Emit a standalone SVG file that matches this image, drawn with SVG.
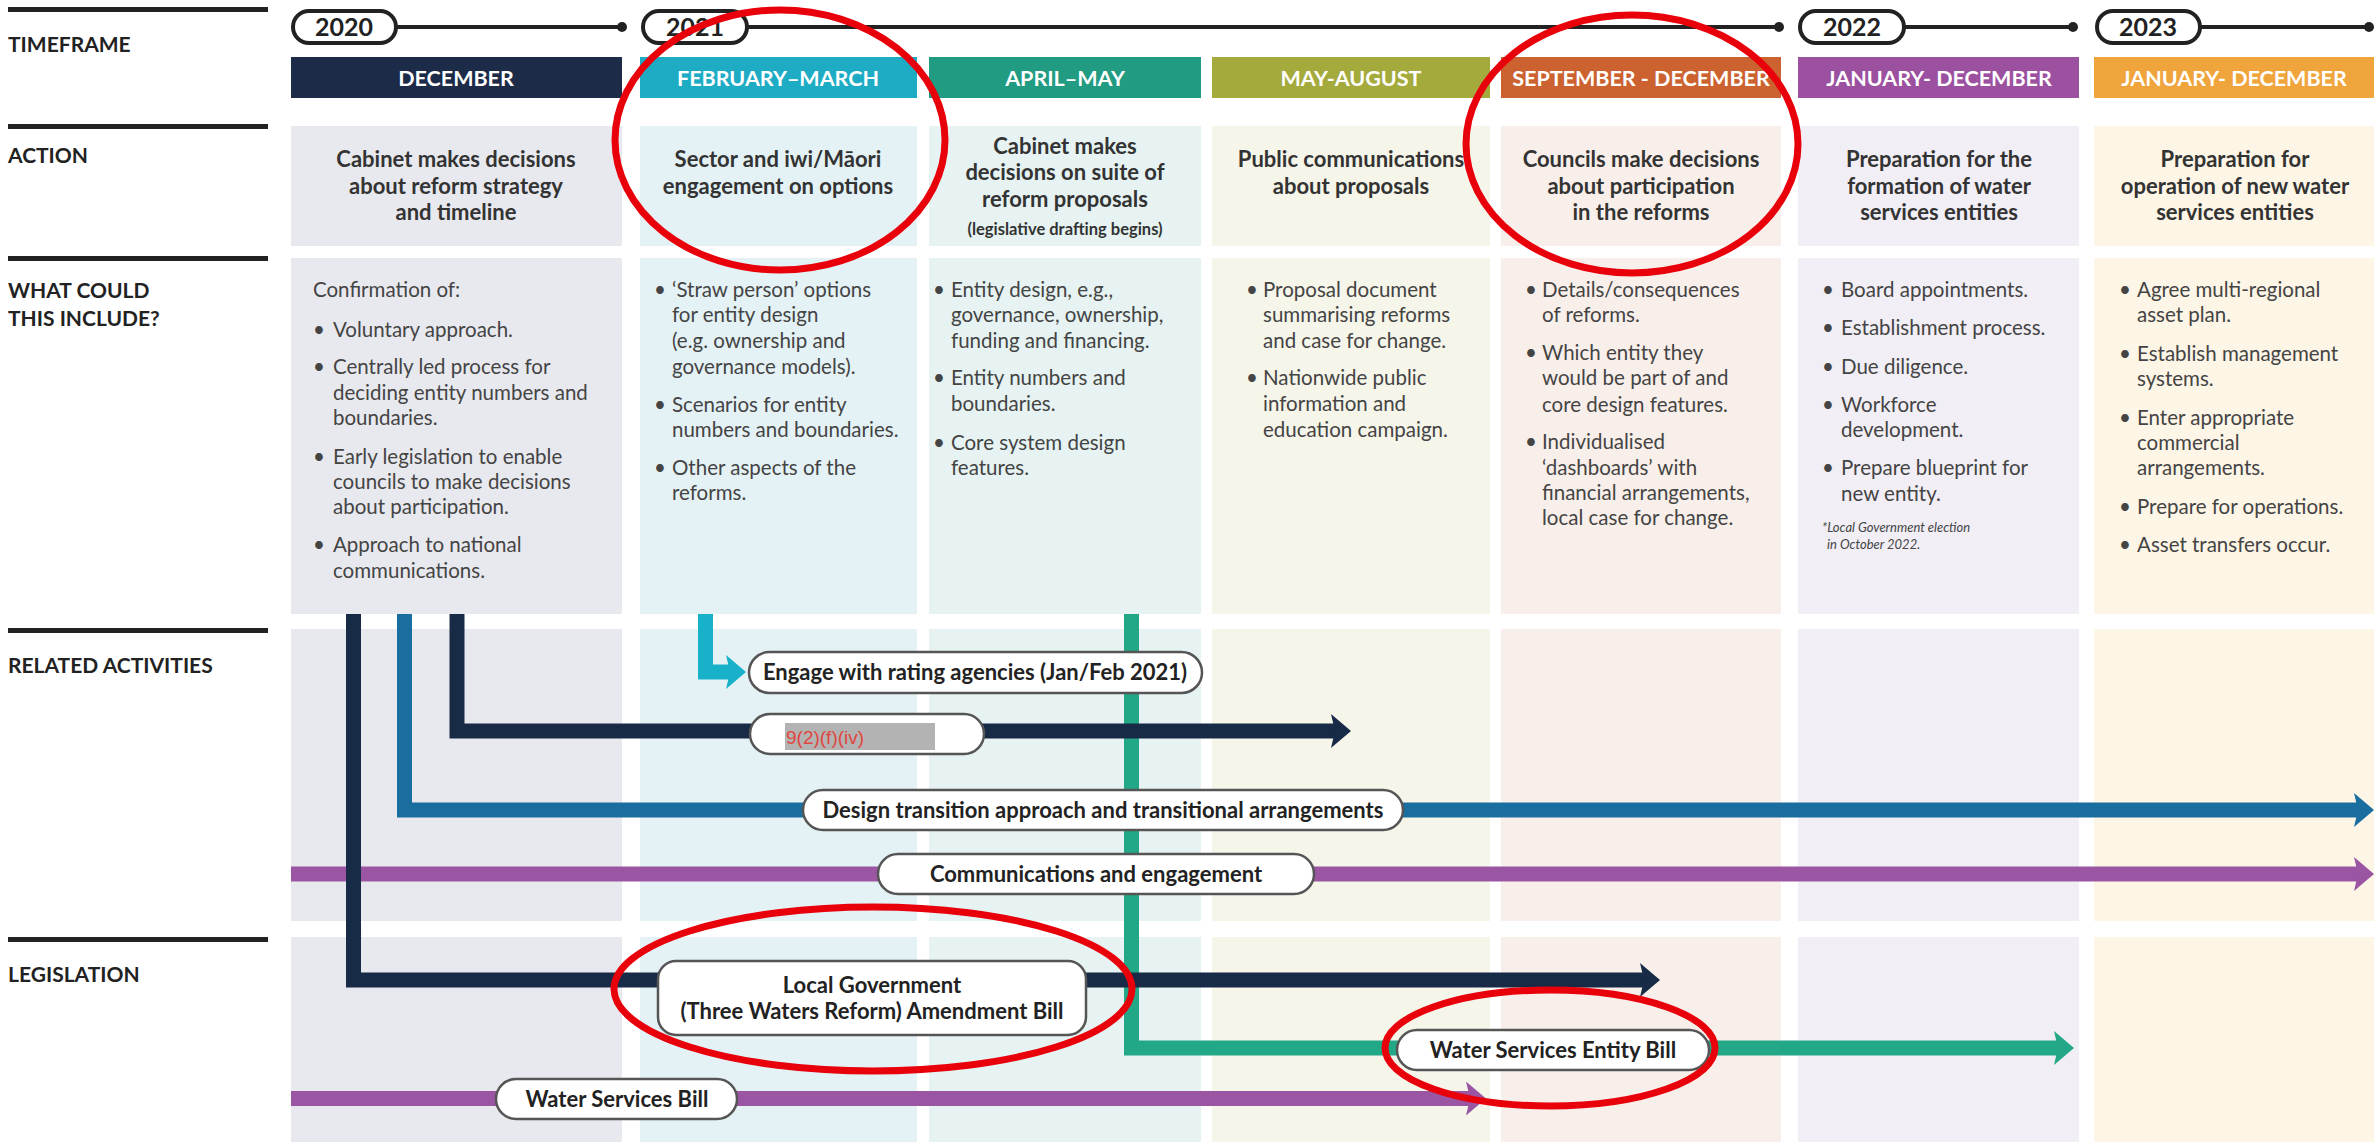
<svg xmlns="http://www.w3.org/2000/svg" width="2374" height="1142" viewBox="0 0 2374 1142">
<style>
.lbl{font-family:Lato,"Liberation Sans",sans-serif;font-weight:bold;font-size:21px;fill:#222}
.hdr{font-family:Lato,"Liberation Sans",sans-serif;font-weight:bold;font-size:21.5px;fill:#fff;text-anchor:middle}
.yr{font-family:Lato,"Liberation Sans",sans-serif;font-weight:bold;font-size:25px;fill:#222;text-anchor:middle}
.act{font-family:Lato,"Liberation Sans",sans-serif;font-weight:bold;font-size:22px;fill:#333;text-anchor:middle}
.sm{font-size:16.5px}
.body{font-family:Lato,"Liberation Sans",sans-serif;font-size:20.5px;fill:#444}
.note{font-family:Lato,"Liberation Sans",sans-serif;font-style:italic;font-size:13px;fill:#444}
.pt{font-family:Lato,"Liberation Sans",sans-serif;font-weight:bold;font-size:22px;fill:#222;text-anchor:middle}
.pill{fill:#fff;stroke:#555;stroke-width:2.5}
.ypill{fill:#fff;stroke:#222;stroke-width:4}
.bar{fill:#222}
.ln{fill:none;stroke-width:15;stroke-linejoin:miter;stroke-linecap:butt}
.ring{fill:none;stroke:#e8000b;stroke-width:7}
</style>
<defs>
<marker id="aNavy" viewBox="0 -17 20 34" markerWidth="20" markerHeight="34" refX="6" refY="0" markerUnits="userSpaceOnUse" orient="auto"><path d="M0,-17 L20,0 L0,17 L4,0 z" fill="#172a46"/></marker>
<marker id="aBlue" viewBox="0 -17 20 34" markerWidth="20" markerHeight="34" refX="6" refY="0" markerUnits="userSpaceOnUse" orient="auto"><path d="M0,-17 L20,0 L0,17 L4,0 z" fill="#1a6e9f"/></marker>
<marker id="aPurple" viewBox="0 -17 20 34" markerWidth="20" markerHeight="34" refX="6" refY="0" markerUnits="userSpaceOnUse" orient="auto"><path d="M0,-17 L20,0 L0,17 L4,0 z" fill="#9a56a2"/></marker>
<marker id="aCyan" viewBox="0 -17 20 34" markerWidth="20" markerHeight="34" refX="6" refY="0" markerUnits="userSpaceOnUse" orient="auto"><path d="M0,-17 L20,0 L0,17 L4,0 z" fill="#17b1c9"/></marker>
<marker id="aGreen" viewBox="0 -17 20 34" markerWidth="20" markerHeight="34" refX="6" refY="0" markerUnits="userSpaceOnUse" orient="auto"><path d="M0,-17 L20,0 L0,17 L4,0 z" fill="#22a886"/></marker>
</defs>
<rect width="2374" height="1142" fill="#fff"/>

<!-- column backgrounds -->
<g id="backgrounds">
<g fill="#e8e9ee"><rect x="291" y="126" width="331" height="120"/><rect x="291" y="258" width="331" height="356"/><rect x="291" y="629" width="331" height="292"/><rect x="291" y="937" width="331" height="205"/></g>
<g fill="#e4f2f6"><rect x="640" y="126" width="277" height="120"/><rect x="640" y="258" width="277" height="356"/><rect x="640" y="629" width="277" height="292"/><rect x="640" y="937" width="277" height="205"/></g>
<g fill="#e6f3f2"><rect x="929" y="126" width="272" height="120"/><rect x="929" y="258" width="272" height="356"/><rect x="929" y="629" width="272" height="292"/><rect x="929" y="937" width="272" height="205"/></g>
<g fill="#f6f5ea"><rect x="1212" y="126" width="278" height="120"/><rect x="1212" y="258" width="278" height="356"/><rect x="1212" y="629" width="278" height="292"/><rect x="1212" y="937" width="278" height="205"/></g>
<g fill="#f9efea"><rect x="1501" y="126" width="280" height="120"/><rect x="1501" y="258" width="280" height="356"/><rect x="1501" y="629" width="280" height="292"/><rect x="1501" y="937" width="280" height="205"/></g>
<g fill="#f1eef5"><rect x="1798" y="126" width="281" height="120"/><rect x="1798" y="258" width="281" height="356"/><rect x="1798" y="629" width="281" height="292"/><rect x="1798" y="937" width="281" height="205"/></g>
<g fill="#fdf5e6"><rect x="2094" y="126" width="280" height="120"/><rect x="2094" y="258" width="280" height="356"/><rect x="2094" y="629" width="280" height="292"/><rect x="2094" y="937" width="280" height="205"/></g>
</g>

<!-- row labels -->
<g id="row-labels">
<rect class="bar" x="8" y="7" width="260" height="5"/>
<rect class="bar" x="8" y="124" width="260" height="5"/>
<rect class="bar" x="8" y="256" width="260" height="5"/>
<rect class="bar" x="8" y="628" width="260" height="5"/>
<rect class="bar" x="8" y="937" width="260" height="5"/>
<text class="lbl" x="8" y="52">TIMEFRAME</text>
<text class="lbl" x="8" y="163">ACTION</text>
<text class="lbl" x="8" y="298">WHAT COULD</text>
<text class="lbl" x="8" y="326">THIS INCLUDE?</text>
<text class="lbl" x="8" y="673">RELATED ACTIVITIES</text>
<text class="lbl" x="8" y="982">LEGISLATION</text>
</g>

<!-- timeline -->
<g id="timeline">
<g stroke="#222" stroke-width="4"><line x1="396" y1="27" x2="622" y2="27"/><line x1="747" y1="27" x2="1779" y2="27"/><line x1="1904" y1="27" x2="2073" y2="27"/><line x1="2200" y1="27" x2="2369" y2="27"/></g>
<g fill="#222"><circle cx="622" cy="27" r="5"/><circle cx="1779" cy="27" r="5"/><circle cx="2073" cy="27" r="5"/><circle cx="2369" cy="27" r="5"/></g>
<g id="y2020"><rect class="ypill" x="293" y="11" width="103" height="32" rx="16"/><text class="yr" x="344" y="36">2020</text></g>
<g id="y2021"><rect class="ypill" x="643" y="11" width="104" height="32" rx="16"/><text class="yr" x="695" y="36">2021</text></g>
<g id="y2022"><rect class="ypill" x="1800" y="11" width="104" height="32" rx="16"/><text class="yr" x="1852" y="36">2022</text></g>
<g id="y2023"><rect class="ypill" x="2097" y="11" width="103" height="32" rx="16"/><text class="yr" x="2148" y="36">2023</text></g>
</g>

<!-- headers -->
<g id="headers">
<g id="h1"><rect x="291" y="57" width="331" height="41" fill="#1c2b48"/><text class="hdr" x="456" y="86">DECEMBER</text></g>
<g id="h2"><rect x="640" y="57" width="277" height="41" fill="#1eacc5"/><text class="hdr" x="778" y="86">FEBRUARY–MARCH</text></g>
<g id="h3"><rect x="929" y="57" width="272" height="41" fill="#219b82"/><text class="hdr" x="1065" y="86">APRIL–MAY</text></g>
<g id="h4"><rect x="1212" y="57" width="278" height="41" fill="#a4aa3c"/><text class="hdr" x="1351" y="86">MAY-AUGUST</text></g>
<g id="h5"><rect x="1501" y="57" width="280" height="41" fill="#cc6230"/><text class="hdr" x="1641" y="86">SEPTEMBER - DECEMBER</text></g>
<g id="h6"><rect x="1798" y="57" width="281" height="41" fill="#9b50a0"/><text class="hdr" x="1939" y="86">JANUARY- DECEMBER</text></g>
<g id="h7"><rect x="2094" y="57" width="280" height="41" fill="#f0a43c"/><text class="hdr" x="2234" y="86">JANUARY- DECEMBER</text></g>
</g>

<!-- actions -->
<g id="actions">
<g id="a1"><text class="act" x="456" y="167">Cabinet makes decisions</text><text class="act" x="456" y="194">about reform strategy</text><text class="act" x="456" y="220">and timeline</text></g>
<g id="a2"><text class="act" x="778" y="167">Sector and iwi/Māori</text><text class="act" x="778" y="194">engagement on options</text></g>
<g id="a3"><text class="act" x="1065" y="154">Cabinet makes</text><text class="act" x="1065" y="180">decisions on suite of</text><text class="act" x="1065" y="207">reform proposals</text><text class="act sm" x="1065" y="235">(legislative drafting begins)</text></g>
<g id="a4"><text class="act" x="1351" y="167">Public communications</text><text class="act" x="1351" y="194">about proposals</text></g>
<g id="a5"><text class="act" x="1641" y="167">Councils make decisions</text><text class="act" x="1641" y="194">about participation</text><text class="act" x="1641" y="220">in the reforms</text></g>
<g id="a6"><text class="act" x="1939" y="167">Preparation for the</text><text class="act" x="1939" y="194">formation of water</text><text class="act" x="1939" y="220">services entities</text></g>
<g id="a7"><text class="act" x="2235" y="167">Preparation for</text><text class="act" x="2235" y="194">operation of new water</text><text class="act" x="2235" y="220">services entities</text></g>
</g>

<!-- what could this include -->
<g id="includes">
<g id="w1">
<text class="body" x="313" y="297">Confirmation of:</text>
<text class="body" x="313" y="337">•</text><text class="body" x="333" y="337">Voluntary approach.</text>
<text class="body" x="313" y="374">•</text><text class="body" x="333" y="374">Centrally led process for</text>
<text class="body" x="333" y="400">deciding entity numbers and</text>
<text class="body" x="333" y="425">boundaries.</text>
<text class="body" x="313" y="464">•</text><text class="body" x="333" y="464">Early legislation to enable</text>
<text class="body" x="333" y="489">councils to make decisions</text>
<text class="body" x="333" y="514">about participation.</text>
<text class="body" x="313" y="552">•</text><text class="body" x="333" y="552">Approach to national</text>
<text class="body" x="333" y="578">communications.</text>
</g>
<g id="w2">
<text class="body" x="654" y="297">•</text><text class="body" x="672" y="297">‘Straw person’ options</text>
<text class="body" x="672" y="322">for entity design</text>
<text class="body" x="672" y="348">(e.g. ownership and</text>
<text class="body" x="672" y="374">governance models).</text>
<text class="body" x="654" y="412">•</text><text class="body" x="672" y="412">Scenarios for entity</text>
<text class="body" x="672" y="437">numbers and boundaries.</text>
<text class="body" x="654" y="475">•</text><text class="body" x="672" y="475">Other aspects of the</text>
<text class="body" x="672" y="500">reforms.</text>
</g>
<g id="w3">
<text class="body" x="933" y="297">•</text><text class="body" x="951" y="297">Entity design, e.g.,</text>
<text class="body" x="951" y="322">governance, ownership,</text>
<text class="body" x="951" y="348">funding and financing.</text>
<text class="body" x="933" y="385">•</text><text class="body" x="951" y="385">Entity numbers and</text>
<text class="body" x="951" y="411">boundaries.</text>
<text class="body" x="933" y="450">•</text><text class="body" x="951" y="450">Core system design</text>
<text class="body" x="951" y="475">features.</text>
</g>
<g id="w4">
<text class="body" x="1246" y="297">•</text><text class="body" x="1263" y="297">Proposal document</text>
<text class="body" x="1263" y="322">summarising reforms</text>
<text class="body" x="1263" y="348">and case for change.</text>
<text class="body" x="1246" y="385">•</text><text class="body" x="1263" y="385">Nationwide public</text>
<text class="body" x="1263" y="411">information and</text>
<text class="body" x="1263" y="437">education campaign.</text>
</g>
<g id="w5">
<text class="body" x="1525" y="297">•</text><text class="body" x="1542" y="297">Details/consequences</text>
<text class="body" x="1542" y="322">of reforms.</text>
<text class="body" x="1525" y="360">•</text><text class="body" x="1542" y="360">Which entity they</text>
<text class="body" x="1542" y="385">would be part of and</text>
<text class="body" x="1542" y="412">core design features.</text>
<text class="body" x="1525" y="449">•</text><text class="body" x="1542" y="449">Individualised</text>
<text class="body" x="1542" y="475">‘dashboards’ with</text>
<text class="body" x="1542" y="500">financial arrangements,</text>
<text class="body" x="1542" y="525">local case for change.</text>
</g>
<g id="w6">
<text class="body" x="1822" y="297">•</text><text class="body" x="1841" y="297">Board appointments.</text>
<text class="body" x="1822" y="335">•</text><text class="body" x="1841" y="335">Establishment process.</text>
<text class="body" x="1822" y="374">•</text><text class="body" x="1841" y="374">Due diligence.</text>
<text class="body" x="1822" y="412">•</text><text class="body" x="1841" y="412">Workforce</text>
<text class="body" x="1841" y="437">development.</text>
<text class="body" x="1822" y="475">•</text><text class="body" x="1841" y="475">Prepare blueprint for</text>
<text class="body" x="1841" y="501">new entity.</text>
<text class="note" x="1822" y="532">*Local Government election</text>
<text class="note" x="1827" y="549">in October 2022.</text>
</g>
<g id="w7">
<text class="body" x="2119" y="297">•</text><text class="body" x="2137" y="297">Agree multi-regional</text>
<text class="body" x="2137" y="322">asset plan.</text>
<text class="body" x="2119" y="361">•</text><text class="body" x="2137" y="361">Establish management</text>
<text class="body" x="2137" y="386">systems.</text>
<text class="body" x="2119" y="425">•</text><text class="body" x="2137" y="425">Enter appropriate</text>
<text class="body" x="2137" y="450">commercial</text>
<text class="body" x="2137" y="475">arrangements.</text>
<text class="body" x="2119" y="514">•</text><text class="body" x="2137" y="514">Prepare for operations.</text>
<text class="body" x="2119" y="552">•</text><text class="body" x="2137" y="552">Asset transfers occur.</text>
</g>
</g>

<!-- connectors -->
<g id="connectors">
<path class="ln" stroke="#22a886" d="M1131.5,614 V1048 H2060" marker-end="url(#aGreen)"/>
<path class="ln" stroke="#9a56a2" d="M291,874 H2360" marker-end="url(#aPurple)"/>
<path class="ln" stroke="#9a56a2" d="M291,1098.5 H1472" marker-end="url(#aPurple)"/>
<path class="ln" stroke="#1a6e9f" d="M404.5,614 V810 H2360" marker-end="url(#aBlue)"/>
<path class="ln" stroke="#172a46" d="M457,614 V731 H1337" marker-end="url(#aNavy)"/>
<path class="ln" stroke="#172a46" d="M353.5,614 V980 H1646" marker-end="url(#aNavy)"/>
<path class="ln" stroke="#17b1c9" d="M705.5,614 V672 H732" marker-end="url(#aCyan)"/>
</g>

<!-- activity / legislation nodes -->
<g id="n-engage"><rect class="pill" x="749" y="652" width="453" height="41" rx="20.5"/><text class="pt" x="975" y="680">Engage with rating agencies (Jan/Feb 2021)</text></g>
<g id="n-redacted"><rect class="pill" x="750" y="714" width="234" height="40" rx="20"/><rect x="785" y="723" width="150" height="27" fill="#b3b3b3"/><text x="786" y="744" font-family="'Liberation Sans',Arial,sans-serif" font-size="19" fill="#e0463e">9(2)(f)(iv)</text></g>
<g id="n-design"><rect class="pill" x="803" y="790" width="600" height="40" rx="20"/><text class="pt" x="1103" y="818">Design transition approach and transitional arrangements</text></g>
<g id="n-comms"><rect class="pill" x="878" y="854" width="436" height="40" rx="20"/><text class="pt" x="1096" y="882">Communications and engagement</text></g>
<g id="n-lgbill"><rect class="pill" x="658" y="961" width="428" height="74" rx="18"/><text class="pt" x="872" y="993">Local Government</text><text class="pt" x="872" y="1019">(Three Waters Reform) Amendment Bill</text></g>
<g id="n-wsebill"><rect class="pill" x="1397" y="1030" width="312" height="40" rx="20"/><text class="pt" x="1553" y="1058">Water Services Entity Bill</text></g>
<g id="n-wsb"><rect class="pill" x="496" y="1079" width="241" height="40" rx="20"/><text class="pt" x="617" y="1107">Water Services Bill</text></g>

<!-- red annotation rings -->
<g id="annotations">
<ellipse class="ring" cx="780" cy="140" rx="165" ry="130"/>
<ellipse class="ring" cx="1632" cy="144" rx="166" ry="129"/>
<ellipse class="ring" cx="873" cy="989" rx="259" ry="82"/>
<ellipse class="ring" cx="1550" cy="1048" rx="165" ry="58"/>
</g>
</svg>
